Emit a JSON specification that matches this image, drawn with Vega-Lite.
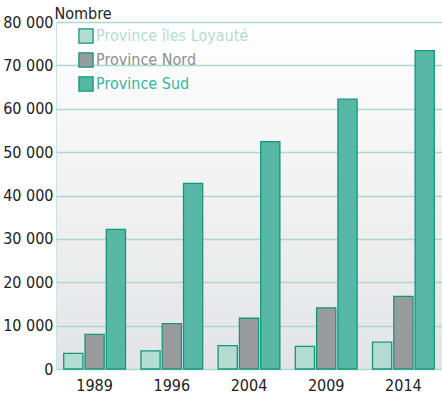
{
  "$schema": "https://vega.github.io/schema/vega-lite/v6.json",
  "autosize": "none",
  "width": 386,
  "height": 347,
  "padding": {"left": 56, "top": 22, "right": 0, "bottom": 33},
  "background": "white",
  "config": {
    "font": "DejaVu Sans Condensed, Roboto, sans-serif",
    "view": {
      "fill": {"gradient": "linear", "x1": 0, "y1": 0, "x2": 0, "y2": 1,
        "stops": [{"offset": 0, "color": "#ffffff"}, {"offset": 1, "color": "#e3e4e5"}]},
      "stroke": null
    }
  },
  "data": {
    "values": [
      {"year": "1989", "province": "Province îles Loyauté", "value": 3600},
      {"year": "1989", "province": "Province Nord", "value": 8000},
      {"year": "1989", "province": "Province Sud", "value": 32200},
      {"year": "1996", "province": "Province îles Loyauté", "value": 4200},
      {"year": "1996", "province": "Province Nord", "value": 10450},
      {"year": "1996", "province": "Province Sud", "value": 42800},
      {"year": "2004", "province": "Province îles Loyauté", "value": 5400},
      {"year": "2004", "province": "Province Nord", "value": 11700},
      {"year": "2004", "province": "Province Sud", "value": 52400},
      {"year": "2009", "province": "Province îles Loyauté", "value": 5200},
      {"year": "2009", "province": "Province Nord", "value": 14100},
      {"year": "2009", "province": "Province Sud", "value": 62200},
      {"year": "2014", "province": "Province îles Loyauté", "value": 6200},
      {"year": "2014", "province": "Province Nord", "value": 16750},
      {"year": "2014", "province": "Province Sud", "value": 73400}
    ]
  },
  "mark": {"type": "bar", "stroke": "#14967c", "strokeWidth": 1.3},
  "encoding": {
    "x": {
      "field": "year", "type": "nominal",
      "scale": {"paddingInner": 0.2, "paddingOuter": 0.1},
      "axis": {"title": null, "labelAngle": 0, "ticks": false, "domain": false,
        "labelFontSize": 16, "labelColor": "#222", "labelPadding": 8}
    },
    "xOffset": {
      "field": "province", "type": "nominal",
      "sort": ["Province îles Loyauté", "Province Nord", "Province Sud"],
      "scale": {"paddingInner": 0.1}
    },
    "y": {
      "field": "value", "type": "quantitative",
      "scale": {"domain": [0, 80000], "nice": false},
      "axis": {
        "values": [0, 10000, 20000, 30000, 40000, 50000, 60000, 70000, 80000],
        "labelExpr": "replace(format(datum.value, ',d'), /,/g, ' ')",
        "labelFontSize": 16, "labelColor": "#222", "labelPadding": 3,
        "ticks": false, "domain": true, "domainColor": "#c7e6de", "domainWidth": 1,
        "gridColor": "#a9d9cd", "gridWidth": 1.5,
        "title": "Nombre", "titleAngle": 0, "titleAlign": "left", "titleBaseline": "alphabetic",
        "titleX": -2, "titleY": -4, "titleFontSize": 16, "titleFontWeight": "normal", "titleColor": "#222"
      }
    },
    "color": {
      "field": "province", "type": "nominal",
      "scale": {
        "domain": ["Province îles Loyauté", "Province Nord", "Province Sud"],
        "range": ["#b3ddd3", "#9a9b9d", "#57b8a5"]
      },
      "legend": {
        "title": null, "orient": "none", "legendX": 22, "legendY": 6,
        "symbolType": "square", "symbolSize": 200, "symbolStrokeColor": "#14967c", "symbolStrokeWidth": 1.3,
        "labelFontSize": 16, "labelOffset": 2, "rowPadding": 4,
        "encode": {
          "labels": {"update": {"fill": {"signal": "datum.value === 'Province îles Loyauté' ? '#b3ddd3' : datum.value === 'Province Nord' ? '#8e8f91' : '#3db49c'"}}},
          "symbols": {"update": {"stroke": {"value": "#14967c"}, "strokeWidth": {"value": 1.3}}}
        }
      }
    }
  }
}
